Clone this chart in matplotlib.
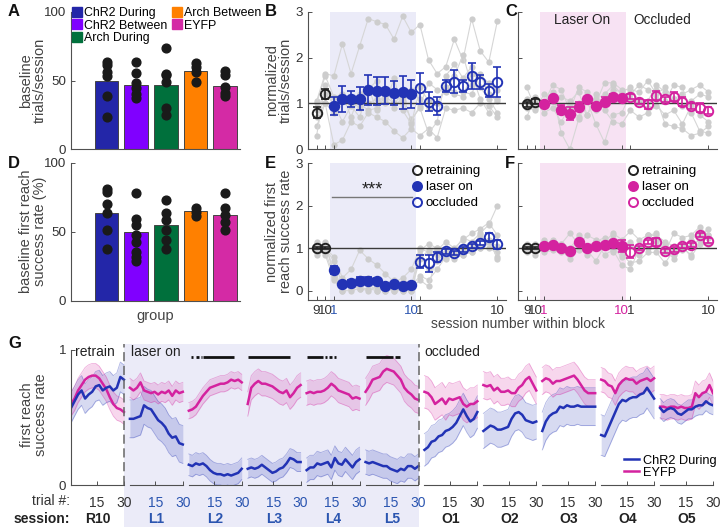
import numpy as np
import matplotlib
matplotlib.use('Agg')
import matplotlib.pyplot as plt
from matplotlib.lines import Line2D
from matplotlib.patches import Rectangle

plt.rcParams['font.family'] = ['Liberation Sans', 'DejaVu Sans']
plt.rcParams['font.size'] = 9

# ---------------- data ----------------
groups = ['ChR2 During', 'ChR2 Between', 'Arch During', 'Arch Between', 'EYFP']
group_colors = ['#2326a8', '#8000ff', '#00703c', '#ff8000', '#d42aa5']

trials_mean = [50, 47, 47, 57, 46]
trials_pts = [[63.5, 61.3, 56.2, 53.3, 38.7, 23.4],
              [63.7, 55.7, 48, 44.3, 40, 37.5],
              [74, 55, 54, 49, 29.7, 24.8],
              [63, 60, 56.4, 49],
              [57, 54, 45, 41, 38.7]]
success_mean = [63.8, 49.6, 54.9, 64.8, 62.1]
success_pts = [[80.7, 79, 70, 63.3, 51.2, 37.5],
               [77.8, 59, 54.9, 47.6, 42.8, 35.5, 31.9, 29],
               [73, 63.3, 58.5, 51.2, 44, 37.5],
               [67, 64.5, 61.4],
               [77.8, 67, 62, 57.2, 51.2]]

# sessions: retrain 9,10 | laser 1..10 | occluded 1..10
session_ticks = [0, 1, 2, 11, 12, 21]
session_ticklabels = ['9', '10', '1', '10', '1', '10']

b_mean = [0.8, 1.2, 0.95, 1.1, 1.1, 1.1, 1.29, 1.27, 1.28, 1.22, 1.24, 1.2,
          1.33, 1.04, 0.94, 1.38, 1.47, 1.38, 1.6, 1.47, 1.28, 1.47]
b_err = [0.12, 0.11, 0.2, 0.28, 0.17, 0.25, 0.33, 0.3, 0.3, 0.26, 0.36, 0.31,
         0.34, 0.21, 0.2, 0.13, 0.25, 0.14, 0.29, 0.15, 0.15, 0.32]
b_indiv = [[1.05, 1.65, 1.6, 2.3, 1.65, 2.25, 2.85, 2.78, 2.72, 2.4, 2.9, 2.55, 2.72, 1.95, 1.65, 1.8, 2.4, 1.95, 2.85, 2.15, 1.9, 2.8],
           [0.5, 1.0, 0.1, 0.2, 0.6, 0.5, 0.8, 0.7, 0.6, 0.4, 0.25, 0.45, 0.3, 0.45, 0.25, 0.9, 0.85, 0.9, 0.8, 1.0, 0.95, 0.7],
           [0.3, 1.4, 0.95, 1.05, 1.1, 1.0, 0.85, 0.9, 1.15, 1.0, 1.05, 0.65, 0.9, 0.35, 0.6, 1.6, 1.85, 1.55, 1.8, 1.35, 1.1, 0.8],
           [1.0, 1.6, 1.15, 1.2, 0.7, 1.2, 1.35, 0.85, 1.3, 1.0, 1.2, 0.6, 0.95, 1.45, 1.3, 1.25, 1.6, 2.05, 1.4, 1.6, 1.45, 1.3],
           [0.85, 1.2, 1.0, 0.6, 0.95, 0.7, 1.3, 1.5, 1.0, 1.55, 0.85, 0.55, 1.35, 1.05, 1.0, 1.35, 1.25, 1.25, 1.2, 1.65, 1.2, 1.05],
           [0.7, 1.0, 0.8, 1.05, 1.05, 0.9, 1.0, 1.1, 1.1, 0.9, 1.15, 1.3, 1.1, 0.9, 1.0, 1.3, 1.2, 1.15, 1.65, 1.1, 0.8, 1.1]]

c_mean = [0.98, 1.04, 0.99, 1.11, 0.86, 0.78, 0.93, 1.09, 0.94, 1.04, 1.15, 1.11,
          1.15, 1.04, 0.98, 1.17, 1.09, 1.15, 1.04, 0.94, 0.91, 0.84]
c_err = [0.05, 0.05, 0.05, 0.06, 0.1, 0.14, 0.1, 0.06, 0.06, 0.1, 0.06, 0.05,
         0.05, 0.06, 0.1, 0.1, 0.05, 0.1, 0.1, 0.07, 0.1, 0.08]
c_indiv = [[0.7, 1.15, 1.0, 1.25, 0.35, 0.0, 0.65, 1.05, 0.55, 0.15, 0.75, 0.8, 1.2, 1.4, 1.3, 1.1, 0.55, 0.5, 0.45, 0.3, 0.35, 0.5],
           [1.35, 0.9, 1.0, 1.4, 1.3, 0.85, 1.35, 1.25, 1.0, 1.45, 1.45, 1.3, 1.3, 1.25, 1.5, 1.2, 1.35, 1.1, 1.2, 1.3, 1.4, 1.25],
           [1.0, 1.05, 0.8, 0.9, 0.6, 0.95, 1.0, 0.75, 1.2, 0.85, 0.6, 0.55, 0.85, 0.7, 0.8, 0.95, 0.75, 0.85, 0.55, 0.95, 0.75, 0.6],
           [0.9, 0.85, 1.2, 1.1, 1.15, 1.05, 1.25, 0.75, 1.1, 1.2, 1.4, 1.2, 1.1, 1.0, 0.9, 1.3, 1.05, 1.4, 1.35, 0.8, 0.4, 0.35],
           [1.1, 0.95, 0.95, 1.05, 0.85, 0.9, 0.7, 1.15, 0.85, 1.05, 1.3, 1.25, 1.35, 1.05, 1.05, 1.4, 1.25, 1.1, 0.95, 1.05, 1.2, 1.15]]

e_mean = [1.0, 1.0, 0.49, 0.15, 0.19, 0.23, 0.23, 0.23, 0.11, 0.15, 0.11, 0.13,
          0.68, 0.64, 0.79, 0.93, 0.89, 0.97, 1.05, 1.13, 1.26, 1.09]
e_err = [0.02, 0.02, 0.1, 0.04, 0.05, 0.1, 0.08, 0.06, 0.04, 0.04, 0.04, 0.05,
         0.15, 0.2, 0.12, 0.06, 0.05, 0.05, 0.05, 0.05, 0.1, 0.1]
e_indiv = [[1.1, 1.0, 0.8, 0.3, 0.5, 0.95, 0.75, 0.6, 0.4, 0.2, 0.3, 0.5, 1.0, 0.9, 0.95, 1.15, 1.0, 1.2, 1.35, 1.45, 1.6, 1.3],
           [0.9, 1.1, 0.45, 0.1, 0.1, 0.15, 0.2, 0.1, 0.0, 0.25, 0.05, 0.0, 0.85, 0.5, 0.7, 0.9, 0.95, 1.25, 1.15, 1.35, 1.55, 2.0],
           [0.95, 0.85, 0.25, 0.0, 0.2, 0.3, 0.15, 0.0, 0.1, 0.05, 0.2, 0.1, 0.35, 0.25, 0.5, 0.8, 0.9, 0.85, 1.05, 1.3, 1.0, 0.9],
           [1.05, 1.0, 0.7, 0.15, 0.05, 0.1, 0.3, 0.2, 0.05, 0.0, 0.0, 0.0, 0.75, 0.95, 1.0, 0.75, 0.95, 1.05, 1.1, 1.0, 1.15, 1.05],
           [0.85, 1.15, 0.35, 0.0, 0.0, 0.05, 0.0, 0.1, 0.0, 0.15, 0.0, 0.05, 0.25, 0.1, 0.85, 0.9, 0.85, 0.95, 0.9, 1.0, 1.2, 0.75],
           [1.15, 0.95, 0.3, 0.2, 0.1, 0.05, 0.05, 0.0, 0.05, 0.0, 0.05, 0.1, 0.95, 1.1, 1.0, 1.0, 0.75, 0.85, 0.9, 1.25, 1.15, 0.8]]

f_mean = [1.0, 1.0, 1.05, 1.07, 1.0, 0.94, 1.14, 1.01, 1.05, 1.07, 1.11, 1.05,
          0.92, 1.0, 1.14, 1.14, 0.94, 0.97, 1.05, 1.07, 1.31, 1.18]
f_err = [0.02, 0.02, 0.04, 0.04, 0.04, 0.05, 0.05, 0.04, 0.04, 0.05, 0.05, 0.15,
         0.15, 0.05, 0.05, 0.1, 0.05, 0.05, 0.05, 0.05, 0.05, 0.05]
f_indiv = [[0.9, 1.1, 1.05, 1.2, 0.9, 0.85, 1.3, 0.95, 0.7, 1.05, 1.3, 0.85, 0.65, 0.7, 0.9, 0.9, 0.65, 0.95, 1.05, 0.8, 1.1, 1.1],
           [1.1, 0.85, 1.2, 1.0, 1.1, 1.35, 1.1, 1.3, 1.2, 1.15, 1.35, 1.2, 1.4, 1.2, 1.3, 1.35, 0.9, 1.35, 1.25, 1.3, 1.5, 1.3],
           [1.0, 1.05, 0.9, 0.95, 0.95, 0.75, 1.0, 0.85, 1.1, 0.85, 0.95, 0.6, 0.5, 1.0, 1.0, 1.15, 0.95, 0.75, 1.0, 0.85, 1.3, 1.45],
           [0.95, 1.0, 1.1, 1.05, 1.1, 1.0, 1.25, 1.05, 1.15, 1.25, 1.0, 0.8, 1.1, 0.9, 1.3, 1.3, 1.15, 1.05, 0.95, 1.2, 1.35, 1.25],
           [1.05, 0.95, 1.0, 1.15, 0.95, 0.85, 0.95, 1.0, 1.05, 1.1, 0.9, 0.95, 1.15, 0.85, 1.3, 1.2, 1.1, 0.85, 1.1, 1.05, 1.2, 1.3]]

# panel G: within-session first reach success (16 samples across trials 1..30)
g_sessions = ['R10', 'L1', 'L2', 'L3', 'L4', 'L5', 'O1', 'O2', 'O3', 'O4', 'O5']
g_chr2 = [
    [0.57, 0.62, 0.67, 0.70, 0.64, 0.67, 0.69, 0.73, 0.74, 0.70, 0.72, 0.73, 0.70, 0.72, 0.80, 0.78],
    [0.49, 0.49, 0.50, 0.51, 0.59, 0.57, 0.56, 0.52, 0.48, 0.46, 0.43, 0.38, 0.35, 0.36, 0.31, 0.30],
    [0.15, 0.14, 0.16, 0.15, 0.16, 0.14, 0.11, 0.09, 0.08, 0.08, 0.07, 0.08, 0.07, 0.08, 0.09, 0.12],
    [0.12, 0.13, 0.12, 0.13, 0.15, 0.13, 0.11, 0.09, 0.10, 0.12, 0.13, 0.16, 0.20, 0.19, 0.17, 0.17],
    [0.11, 0.13, 0.13, 0.16, 0.15, 0.16, 0.17, 0.13, 0.20, 0.16, 0.15, 0.19, 0.16, 0.13, 0.17, 0.19],
    [0.17, 0.16, 0.17, 0.16, 0.15, 0.14, 0.14, 0.12, 0.11, 0.10, 0.12, 0.11, 0.14, 0.14, 0.12, 0.14],
    [0.26, 0.28, 0.32, 0.33, 0.36, 0.37, 0.40, 0.41, 0.43, 0.46, 0.51, 0.56, 0.51, 0.47, 0.49, 0.54],
    [0.40, 0.42, 0.44, 0.43, 0.41, 0.41, 0.42, 0.43, 0.49, 0.53, 0.54, 0.52, 0.48, 0.47, 0.46, 0.47],
    [0.40, 0.47, 0.51, 0.53, 0.54, 0.58, 0.57, 0.59, 0.58, 0.58, 0.59, 0.58, 0.58, 0.58, 0.58, 0.58],
    [0.37, 0.36, 0.42, 0.48, 0.54, 0.60, 0.63, 0.62, 0.64, 0.65, 0.65, 0.67, 0.68, 0.72, 0.68, 0.64],
    [0.57, 0.54, 0.56, 0.57, 0.56, 0.53, 0.52, 0.54, 0.56, 0.56, 0.58, 0.59, 0.59, 0.62, 0.60, 0.59]]
g_eyfp = [
    [0.60, 0.64, 0.70, 0.74, 0.78, 0.80, 0.81, 0.81, 0.79, 0.75, 0.71, 0.65, 0.60, 0.57, 0.56, 0.54],
    [0.72, 0.70, 0.72, 0.76, 0.70, 0.69, 0.68, 0.69, 0.67, 0.69, 0.68, 0.70, 0.66, 0.70, 0.68, 0.69],
    [0.55, 0.56, 0.58, 0.62, 0.66, 0.69, 0.72, 0.73, 0.74, 0.75, 0.75, 0.76, 0.78, 0.77, 0.78, 0.76],
    [0.60, 0.72, 0.75, 0.77, 0.75, 0.75, 0.74, 0.73, 0.71, 0.69, 0.68, 0.70, 0.65, 0.68, 0.72, 0.74],
    [0.68, 0.69, 0.68, 0.69, 0.69, 0.70, 0.72, 0.75, 0.73, 0.70, 0.69, 0.68, 0.67, 0.64, 0.65, 0.64],
    [0.69, 0.73, 0.78, 0.79, 0.80, 0.84, 0.86, 0.85, 0.84, 0.81, 0.78, 0.72, 0.69, 0.67, 0.64, 0.63],
    [0.69, 0.68, 0.65, 0.60, 0.62, 0.64, 0.60, 0.64, 0.63, 0.64, 0.65, 0.60, 0.58, 0.60, 0.60, 0.62],
    [0.74, 0.73, 0.74, 0.70, 0.72, 0.69, 0.69, 0.70, 0.68, 0.68, 0.72, 0.74, 0.78, 0.80, 0.75, 0.70],
    [0.77, 0.79, 0.78, 0.75, 0.77, 0.77, 0.78, 0.79, 0.80, 0.81, 0.78, 0.74, 0.70, 0.68, 0.68, 0.68],
    [0.78, 0.77, 0.74, 0.73, 0.68, 0.74, 0.77, 0.79, 0.78, 0.78, 0.75, 0.77, 0.78, 0.79, 0.77, 0.79],
    [0.58, 0.58, 0.57, 0.58, 0.58, 0.57, 0.58, 0.57, 0.57, 0.58, 0.68, 0.65, 0.68, 0.69, 0.74, 0.68]]
g_chr2_hw = [0.11, 0.14, 0.08, 0.07, 0.09, 0.09, 0.12, 0.13, 0.14, 0.15, 0.07]
g_eyfp_hw = [0.09, 0.07, 0.06, 0.09, 0.09, 0.1, 0.12, 0.1, 0.1, 0.09, 0.09]
# significance segments (trial ranges) for laser sessions L2..L5
g_sig = {2: [(2, 3.5), (5, 6.5), (7.5, 8), (9, 26)], 3: [(1, 24)],
         4: [(1, 10), (11, 12), (13.5, 15), (16, 17)], 5: [(1, 16), (17, 20)]}

# ---------------- layout ----------------
W, H = 722, 527
fig = plt.figure(figsize=(W / 100, H / 100), dpi=100)


def px_axes(l, t, r, b, **kw):
    return fig.add_axes([l / W, 1 - b / H, (r - l) / W, (b - t) / H], **kw)


SPINE = '#505050'
TXT = '#333333'
LAB = '#444444'
BLUE = '#2233b5'
MAG = '#d4229f'
TBLUE = '#2b55b0'
TICKFS = 9.6
LABFS = 10.5


def style(ax):
    for s in ['top', 'right']:
        ax.spines[s].set_visible(False)
    for s in ['left', 'bottom']:
        ax.spines[s].set_color(SPINE)
        ax.spines[s].set_linewidth(0.8)
    ax.tick_params(direction='in', length=3, width=0.7, color=SPINE, labelcolor=TXT, labelsize=TICKFS)


# ---- A and D ----
def bar_panel(ax, means, pts, ylabel):
    x = np.arange(1, 6)
    ax.bar(x, means, width=0.8, color=group_colors, edgecolor='#444444', linewidth=0.7, zorder=2)
    for xi, p in zip(x, pts):
        ax.plot([xi] * len(p), p, 'o', color='#1a1a1a', ms=6.3, zorder=3, clip_on=False)
    ax.set_xlim(-0.2, 5.5)
    ax.set_ylim(0, 100)
    ax.set_yticks([0, 50, 100])
    ax.set_xticks([])
    style(ax)
    ax.set_ylabel(ylabel, color=LAB, fontsize=LABFS, linespacing=1.0)
    ax.yaxis.set_label_coords((47 - 71) / 169, 0.5)


axA = px_axes(71, 12, 240, 149)
bar_panel(axA, trials_mean, trials_pts, 'baseline\ntrials/session')
handles = [Line2D([], [], marker='s', ls='none', color=c, ms=6.5) for c in group_colors]
axA.legend(handles, groups, ncol=2, loc='upper left', bbox_to_anchor=(0.01, 1.035), frameon=False,
           fontsize=8.9, labelspacing=0.05, handlelength=0.7, handletextpad=0.2, columnspacing=0.45,
           borderpad=0, borderaxespad=0)

axD = px_axes(71, 162.7, 240, 300.7)
bar_panel(axD, success_mean, success_pts, 'baseline first reach\nsuccess rate (%)')
axD.set_xlabel('group', color=LAB, fontsize=LABFS, labelpad=6)


# ---- B, C, E, F ----
def session_panel(ax, indiv, mean, err, color, shade, ylim, ylab_on, xlab_on, lab_color):
    idx = np.arange(22)
    ax.axvspan(1.5, 11.5, color=shade, lw=0, zorder=0)
    for s in indiv:
        ax.plot(idx, s, '-', color='#d6d6d6', lw=0.8, zorder=1)
        ax.plot(idx, s, 'o', color='#cdcdcd', ms=4.5, mec='none', zorder=1)
    ax.axhline(1, color='#3a3a3a', lw=1.0, zorder=2)
    mean = np.asarray(mean)
    err = np.asarray(err)
    parts = [(slice(0, 2), '#222222', 'none'), (slice(2, 12), color, color), (slice(12, 22), color, 'none')]
    for sl, ec, fc in parts:
        ax.errorbar(idx[sl], mean[sl], yerr=err[sl], fmt='none', ecolor=ec, elinewidth=1.2,
                    capsize=3.2, capthick=1.2, zorder=3)
        ax.plot(idx[sl], mean[sl], 'o', mfc=fc, mec=ec, mew=1.4, ms=6.8, zorder=4)
    ax.set_xlim(-1, 22)
    ax.set_ylim(*ylim)
    ax.set_yticks([0, 1, 2, 3])
    ax.set_xticks(session_ticks)
    style(ax)
    if not ylab_on:
        ax.set_yticklabels([])
    if xlab_on:
        ax.set_xticklabels(session_ticklabels)
        for i, t in enumerate(ax.get_xticklabels()):
            t.set_color(lab_color if i in (2, 3) else TXT)
    else:
        ax.set_xticklabels([])


SHADE_B = '#ebebf8'
SHADE_C = '#f7e2f3'
axB = px_axes(308, 11.7, 506, 149.3)
session_panel(axB, b_indiv, b_mean, b_err, BLUE, SHADE_B, (0, 3), True, False, None)
axB.set_ylabel('normalized\ntrials/session', color=LAB, fontsize=LABFS, linespacing=1.0)
axB.yaxis.set_label_coords((293 - 308) / 198, 0.5)

axC = px_axes(518, 11.7, 717, 149.3)
session_panel(axC, c_indiv, c_mean, c_err, MAG, SHADE_C, (0, 3), False, False, None)
axC.text(3.2, 2.82, 'Laser On', fontsize=9.8, color='#222222', va='center')
axC.text(12.3, 2.82, 'Occluded', fontsize=9.8, color='#222222', va='center')

axE = px_axes(308, 163.2, 506, 300)
session_panel(axE, e_indiv, e_mean, e_err, BLUE, SHADE_B, (-0.22, 3), True, True, TBLUE)
axE.set_ylabel('normalized first\nreach success rate', color=LAB, fontsize=LABFS, linespacing=1.0)
axE.yaxis.set_label_coords((293 - 308) / 198, 0.5)
axE.plot([1.8, 11.1], [2.21, 2.21], color='#777777', lw=1.0, zorder=3)
axE.text(6.5, 2.36, '***', ha='center', va='center', fontsize=13, color='#222222')

axF = px_axes(518, 163.2, 717, 300)
session_panel(axF, f_indiv, f_mean, f_err, MAG, SHADE_C, (-0.22, 3), False, True, MAG)


def session_legend(ax, color, xanchor):
    h = [Line2D([], [], marker='o', ls='none', mfc='none', mec='#222222', mew=1.4, ms=6.5),
         Line2D([], [], marker='o', ls='none', mfc=color, mec=color, mew=1.4, ms=6.5),
         Line2D([], [], marker='o', ls='none', mfc='none', mec=color, mew=1.4, ms=6.5)]
    ax.legend(h, ['retraining', 'laser on', 'occluded'], loc='upper left', bbox_to_anchor=(xanchor, 0.985),
              frameon=False, fontsize=9.5, labelspacing=0.28, handlelength=0.6, handletextpad=0.35,
              borderpad=0, borderaxespad=0)


session_legend(axE, BLUE, (413 - 308) / 198)
session_legend(axF, MAG, (629 - 518) / 199)

fig.text(518 / W, 1 - 324 / H, 'session number within block', ha='center', va='center',
         fontsize=10, color=LAB)

# ---- G ----
PITCH = 32.3
axG = px_axes(71, 344, 713, 485, facecolor='none')
x_left = 71 + 29.3 * 642 / 352
x_right = 71 + (4 * PITCH + 29.3 + PITCH) * 642 / 352
fig.patches.append(Rectangle((x_left / W, 0), (x_right - x_left) / W, 1 - 344 / H,
                             transform=fig.transFigure, color=SHADE_B, lw=0, zorder=-5))
trial_x = np.linspace(1, 30, 16)
for k in range(len(g_sessions)):
    x = k * PITCH + trial_x - 1
    for vals, hw, col in [(g_chr2[k], g_chr2_hw[k], BLUE), (g_eyfp[k], g_eyfp_hw[k], MAG)]:
        v = np.asarray(vals)
        axG.fill_between(x, v - hw, v + hw, color=col, alpha=0.18, lw=0)
        axG.plot(x, v - hw, color=col, alpha=0.35, lw=0.6)
        axG.plot(x, v + hw, color=col, alpha=0.35, lw=0.6)
    axG.plot(x, g_eyfp[k], color=MAG, lw=1.8)
    axG.plot(x, g_chr2[k], color=BLUE, lw=1.8)
    axG.plot([k * PITCH, k * PITCH + 29], [0, 0], color=SPINE, lw=0.8, clip_on=False)
for k, segs in g_sig.items():
    for a, b in segs:
        axG.plot([k * PITCH + a - 1, k * PITCH + b - 1], [0.95, 0.95], color='#111111', lw=2.0,
                 solid_capstyle='butt')
for xd in [29.3, 5 * PITCH + 29.3]:
    axG.plot([xd, xd], [0, 1.044], color='#666666', lw=1.1, ls=(0, (6, 3)), clip_on=False)
axG.set_xlim(0, 10 * PITCH + 29)
axG.set_ylim(0, 1.044)
style(axG)
axG.spines['bottom'].set_visible(False)
axG.spines['left'].set_bounds(0, 1)
axG.set_yticks([0, 1])
tick_pos, tick_lab = [], []
for k in range(len(g_sessions)):
    tick_pos += [k * PITCH + 14, k * PITCH + 29]
    tick_lab += ['15', '30']
axG.set_xticks(tick_pos)
axG.set_xticklabels(tick_lab)
axG.tick_params(axis='x', pad=8, labelsize=10)
for i, t in enumerate(axG.get_xticklabels()):
    t.set_color(TBLUE if 1 <= i // 2 <= 5 else TXT)
axG.set_ylabel('first reach\nsuccess rate', color=LAB, fontsize=LABFS, linespacing=1.0)
axG.yaxis.set_label_coords((48 - 71) / 642, 0.5)
axG.text(2.2, 0.985, 'retrain', fontsize=10, va='center', color='#222222')
axG.text(33.0, 0.985, 'laser on', fontsize=10, va='center', color='#222222')
axG.text(194.0, 0.985, 'occluded', fontsize=10, va='center', color='#222222')
for k, lab in enumerate(g_sessions):
    axG.text(k * PITCH + 14.5, -0.255, lab, ha='center', va='center', fontsize=10, fontweight='bold',
             color=TBLUE if 1 <= k <= 5 else '#222222', clip_on=False)
axG.text(-0.5, -0.115, 'trial #:', ha='right', va='center', fontsize=10, color=TXT, clip_on=False)
axG.text(-0.5, -0.255, 'session:', ha='right', va='center', fontsize=10, fontweight='bold',
         color='#222222', clip_on=False)
hG = [Line2D([], [], color=BLUE, lw=1.8), Line2D([], [], color=MAG, lw=1.8)]
axG.legend(hG, ['ChR2 During', 'EYFP'], loc='upper left', bbox_to_anchor=((624 - 71) / 642, 0.215),
           frameon=False, fontsize=9.2, labelspacing=0.0, handlelength=1.2, handletextpad=0.3,
           borderpad=0, borderaxespad=0)

# panel letters
for lab, x, y in [('A', 8, 12), ('B', 265, 12), ('C', 505, 12), ('D', 8, 163), ('E', 265, 163),
                  ('F', 505, 163), ('G', 8, 343)]:
    fig.text(x / W, 1 - y / H, lab, fontsize=12, fontweight='bold', va='center', ha='left', color='#111111')

fig.savefig('out.png', dpi=100)
